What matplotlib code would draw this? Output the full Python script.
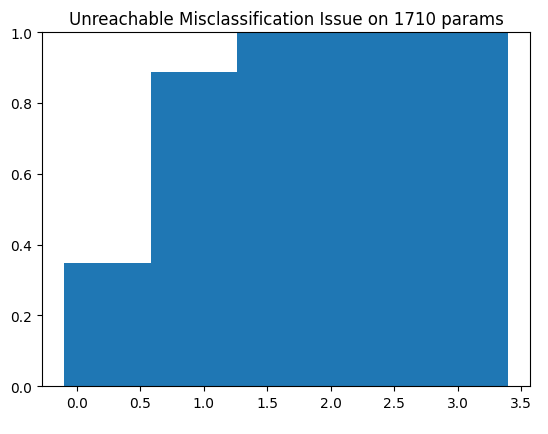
import matplotlib
matplotlib.use("Agg")
import matplotlib.pyplot as plt

bin_edges = [-0.1, 0.58, 1.26, 1.94, 2.62, 3.4]
heights = [0.347, 0.888, 1.0, 1.0, 1.0]

fig, ax = plt.subplots(figsize=(5.48, 4.35), dpi=100)
widths = [bin_edges[i+1] - bin_edges[i] for i in range(len(heights))]
ax.bar(bin_edges[:-1], heights, width=widths, align='edge', color='#1f77b4')
ax.set_ylim(0, 1)
ax.set_title("Unreachable Misclassification Issue on 1710 params")
fig.subplots_adjust(left=0.077, right=0.968, bottom=0.11, top=0.924)
fig.savefig("out.png")
